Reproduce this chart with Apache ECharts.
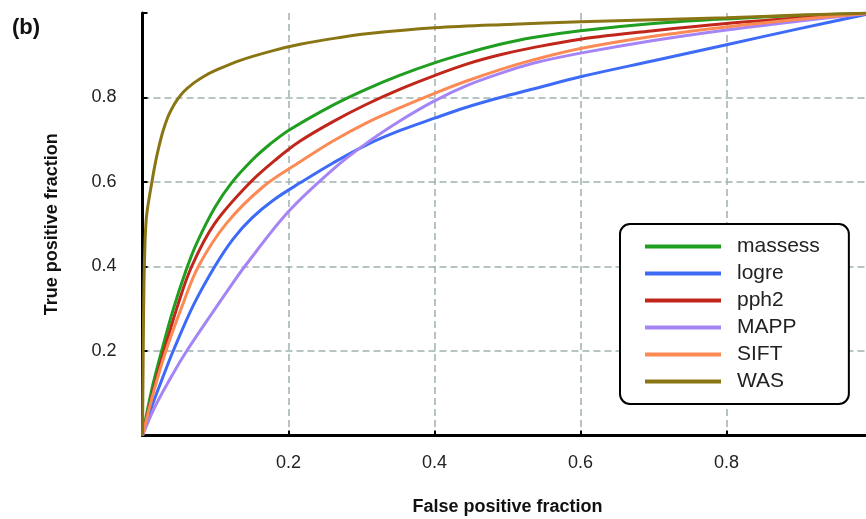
<!DOCTYPE html>
<html>
<head>
<meta charset="utf-8">
<script src="https://cdn.jsdelivr.net/npm/echarts@6/dist/echarts.min.js"></script>
<style>
  html, body { margin: 0; padding: 0; background: #fff; }
  #chart { width: 866px; height: 519px; }
</style>
</head>
<body>
<div id="chart"></div>
<script>
// ROC curves, [false positive fraction, true positive fraction]
const massess = [[0,0],[0.0126,0.108],[0.0262,0.2],[0.042,0.298],[0.0605,0.395],[0.0742,0.455],[0.0993,0.54],[0.122,0.598],[0.152,0.655],[0.175,0.69],[0.2,0.722],[0.261,0.782],[0.307,0.82],[0.353,0.853],[0.4,0.882],[0.444,0.905],[0.49,0.926],[0.535,0.942],[0.6,0.958],[0.7,0.975],[0.8,0.986],[0.9,0.994],[1,1]]
const logre = [[0,0],[0.0126,0.068],[0.031,0.152],[0.042,0.2],[0.0696,0.308],[0.099,0.4],[0.124,0.465],[0.15,0.515],[0.18,0.558],[0.216,0.598],[0.261,0.645],[0.307,0.688],[0.353,0.722],[0.4,0.751],[0.444,0.777],[0.49,0.8],[0.535,0.82],[0.6,0.849],[0.7,0.887],[0.8,0.925],[0.9,0.963],[1,1]]
const pph2 = [[0,0],[0.015,0.108],[0.0295,0.2],[0.0477,0.305],[0.0673,0.4],[0.099,0.502],[0.147,0.598],[0.184,0.655],[0.216,0.697],[0.261,0.743],[0.307,0.784],[0.353,0.82],[0.4,0.852],[0.444,0.879],[0.49,0.901],[0.535,0.918],[0.6,0.938],[0.7,0.958],[0.8,0.975],[0.9,0.988],[1,1]]
const mapp = [[0,0],[0.017,0.068],[0.042,0.147],[0.0605,0.2],[0.0856,0.265],[0.117,0.344],[0.14,0.4],[0.2,0.53],[0.261,0.63],[0.307,0.692],[0.353,0.745],[0.4,0.792],[0.444,0.828],[0.49,0.857],[0.535,0.881],[0.6,0.905],[0.7,0.935],[0.8,0.96],[0.9,0.981],[1,1]]
const sift = [[0,0],[0.016,0.108],[0.032,0.2],[0.054,0.305],[0.0765,0.4],[0.115,0.502],[0.166,0.59],[0.216,0.648],[0.261,0.697],[0.307,0.74],[0.353,0.776],[0.4,0.81],[0.444,0.839],[0.49,0.866],[0.535,0.889],[0.6,0.916],[0.7,0.945],[0.8,0.967],[0.9,0.985],[1,1]]
const was = [[0,0],[0.001,0.2],[0.002,0.36],[0.0035,0.46],[0.005,0.51],[0.0066,0.534],[0.0094,0.565],[0.0126,0.597],[0.017,0.64],[0.022,0.68],[0.028,0.72],[0.035,0.755],[0.041,0.776],[0.047,0.793],[0.056,0.813],[0.07,0.834],[0.085,0.851],[0.1,0.864],[0.134,0.888],[0.179,0.911],[0.216,0.926],[0.27,0.942],[0.307,0.951],[0.4,0.965],[0.5,0.973],[0.6,0.979],[0.7,0.984],[0.8,0.989],[0.9,0.995],[1,1]]

const seriesNames = ['massess', 'logre', 'pph2', 'MAPP', 'SIFT', 'WAS']
const seriesData = [massess, logre, pph2, mapp, sift, was]
const seriesColors = ['#1f9e1f', '#3d6bf7', '#c0261a', '#a585f5', '#fc8a55', '#8a7514']
const tickValues = [0.2, 0.4, 0.6, 0.8]

var myChart = echarts.init(document.getElementById('chart'))

var axisCommon = {
  type: 'value',
  min: 0,
  max: 1,
  interval: 0.2,
  axisLine: { show: true, lineStyle: { color: '#000', width: 3 } },
  axisTick: { show: true, inside: true, length: 5, lineStyle: { color: '#000', width: 2 } },
  splitLine: {
    show: true,
    showMinLine: false,
    showMaxLine: false,
    lineStyle: { color: '#9fb1b1', width: 1.5, type: [7, 4] }
  },
  axisLabel: {
    color: '#222',
    fontSize: 18,
    fontFamily: 'Liberation Sans',
    formatter: (v) => {
      let s = Math.round(v * 10) / 10
      return tickValues.indexOf(s) >= 0 ? s.toFixed(1) : ''
    }
  },
  nameLocation: 'middle',
  nameTextStyle: { color: '#111', fontSize: 18, fontWeight: 'bold', fontFamily: 'Liberation Sans' }
}

var series = seriesNames.map((name, i) => {
  return {
    name: name,
    type: 'line',
    data: seriesData[i],
    smooth: 0.35,
    symbol: 'none',
    lineStyle: { color: seriesColors[i], width: 3 },
    itemStyle: { color: seriesColors[i] },
    z: 3
  }
})

const option = {
  backgroundColor: '#fff',
  animation: false,
  grid: { left: 142.5, top: 13, width: 730, bottom: 83.5, containLabel: false, outerBoundsMode: 'none' },
  xAxis: Object.assign({}, axisCommon, {
    name: 'False positive fraction',
    nameGap: 63,
    axisLabel: Object.assign({}, axisCommon.axisLabel, { margin: 19 })
  }),
  yAxis: Object.assign({}, axisCommon, {
    name: 'True positive fraction',
    nameGap: 81,
    axisLabel: Object.assign({}, axisCommon.axisLabel, { margin: 26 })
  }),
  legend: {
    orient: 'vertical',
    left: 620,
    top: 224,
    data: seriesNames,
    icon: 'rect',
    itemWidth: 76,
    itemHeight: 4,
    itemGap: 6,
    padding: [12, 29, 12, 25],
    backgroundColor: '#fff',
    borderColor: '#000',
    borderWidth: 2,
    borderRadius: 10,
    textStyle: { color: '#222', fontSize: 21, fontFamily: 'Liberation Sans', padding: [0, 0, 0, 11] }
  },
  graphic: [{
    type: 'text',
    left: 12,
    top: 17,
    style: { text: '(b)', fontSize: 22, fontWeight: 'bold', fontFamily: 'Liberation Sans', fill: '#111' }
  }],
  series: series
}

myChart.setOption(option)
</script>
</body>
</html>
